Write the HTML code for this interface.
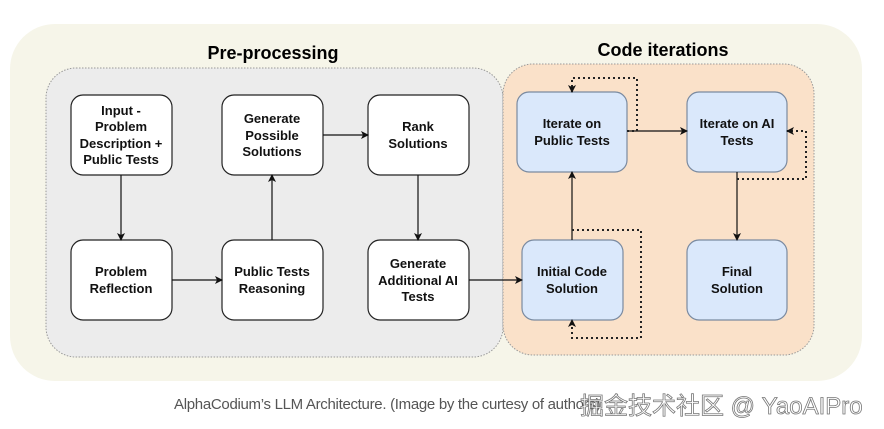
<!DOCTYPE html>
<html><head><meta charset="utf-8"><style>
body{margin:0;width:884px;height:429px;background:#fff;overflow:hidden;position:relative;font-family:"Liberation Sans",sans-serif}
.cap{position:absolute;left:174px;top:396px;font-size:15px;color:#555;letter-spacing:-0.3px}
.wm{position:absolute;left:580px;top:386px;font-size:24px;color:#fff;font-family:"Liberation Sans","Noto Sans CJK SC",sans-serif;-webkit-text-stroke:0.8px #777;white-space:nowrap}
</style></head><body>
<svg width="884" height="429" style="position:absolute;left:0;top:0" font-family="Liberation Sans, sans-serif">
<defs><marker id="a" markerWidth="8" markerHeight="8" refX="7" refY="4" orient="auto" markerUnits="userSpaceOnUse"><path d="M0,0 L8,4 L0,8 L2,4z" fill="#111"/></marker></defs>
<rect x="10" y="24" width="852" height="357" rx="45" fill="#f6f5e9"/>
<rect x="46" y="68" width="457" height="289" rx="30" fill="#ececec" stroke="#999" stroke-dasharray="1.5 1.5"/>
<rect x="503" y="64" width="311" height="291" rx="30" fill="#fae1c9" stroke="#999" stroke-dasharray="1.5 1.5"/>
<text x="273" y="59" text-anchor="middle" font-size="18" font-weight="bold">Pre-processing</text>
<text x="663" y="56" text-anchor="middle" font-size="18" font-weight="bold">Code iterations</text>
<g fill="#fff" stroke="#222" stroke-width="1.2">
<rect x="71" y="95" width="101" height="80" rx="12"/>
<rect x="222" y="95" width="101" height="80" rx="12"/>
<rect x="368" y="95" width="101" height="80" rx="12"/>
<rect x="71" y="240" width="101" height="80" rx="12"/>
<rect x="222" y="240" width="101" height="80" rx="12"/>
<rect x="368" y="240" width="101" height="80" rx="12"/>
</g>
<g fill="#dae8fb" stroke="#7a8aa0" stroke-width="1.2">
<rect x="517" y="92" width="110" height="80" rx="12"/>
<rect x="687" y="92" width="100" height="80" rx="12"/>
<rect x="522" y="240" width="101" height="80" rx="12"/>
<rect x="687" y="240" width="100" height="80" rx="12"/>
</g>
<g font-size="13" font-weight="bold" text-anchor="middle" fill="#111">
<text x="121" y="115">Input -</text><text x="121" y="131">Problem</text><text x="121" y="148">Description +</text><text x="121" y="164">Public Tests</text>
<text x="272" y="123">Generate</text><text x="272" y="140">Possible</text><text x="272" y="156">Solutions</text>
<text x="418" y="131">Rank</text><text x="418" y="148">Solutions</text>
<text x="121" y="276">Problem</text><text x="121" y="293">Reflection</text>
<text x="272" y="276">Public Tests</text><text x="272" y="293">Reasoning</text>
<text x="418" y="268">Generate</text><text x="418" y="285">Additional AI</text><text x="418" y="301">Tests</text>
<text x="572" y="128">Iterate on</text><text x="572" y="145">Public Tests</text>
<text x="737" y="128">Iterate on AI</text><text x="737" y="145">Tests</text>
<text x="572" y="276">Initial Code</text><text x="572" y="293">Solution</text>
<text x="737" y="276">Final</text><text x="737" y="293">Solution</text>
</g>
<g stroke="#111" stroke-width="1.2" fill="none" marker-end="url(#a)">
<path d="M121 175V240"/><path d="M172 280H222"/><path d="M272 240V175"/><path d="M323 135H368"/><path d="M418 175V240"/>
<path d="M469 280H522"/><path d="M572 240V172"/><path d="M627 131H687"/><path d="M737 172V240"/>
</g>
<g stroke="#222" stroke-width="2" fill="none" stroke-dasharray="2 3" marker-end="url(#a)">
<path d="M627 131H637V78H572V92"/>
<path d="M737 179H806V131H787"/>
<path d="M572 230H641V338H572V320"/>
</g>
</svg>
<div class="cap">AlphaCodium’s LLM Architecture. (Image by the curtesy of authors)</div>
<div class="wm">掘金技术社区 @ YaoAIPro</div>
</body></html>
